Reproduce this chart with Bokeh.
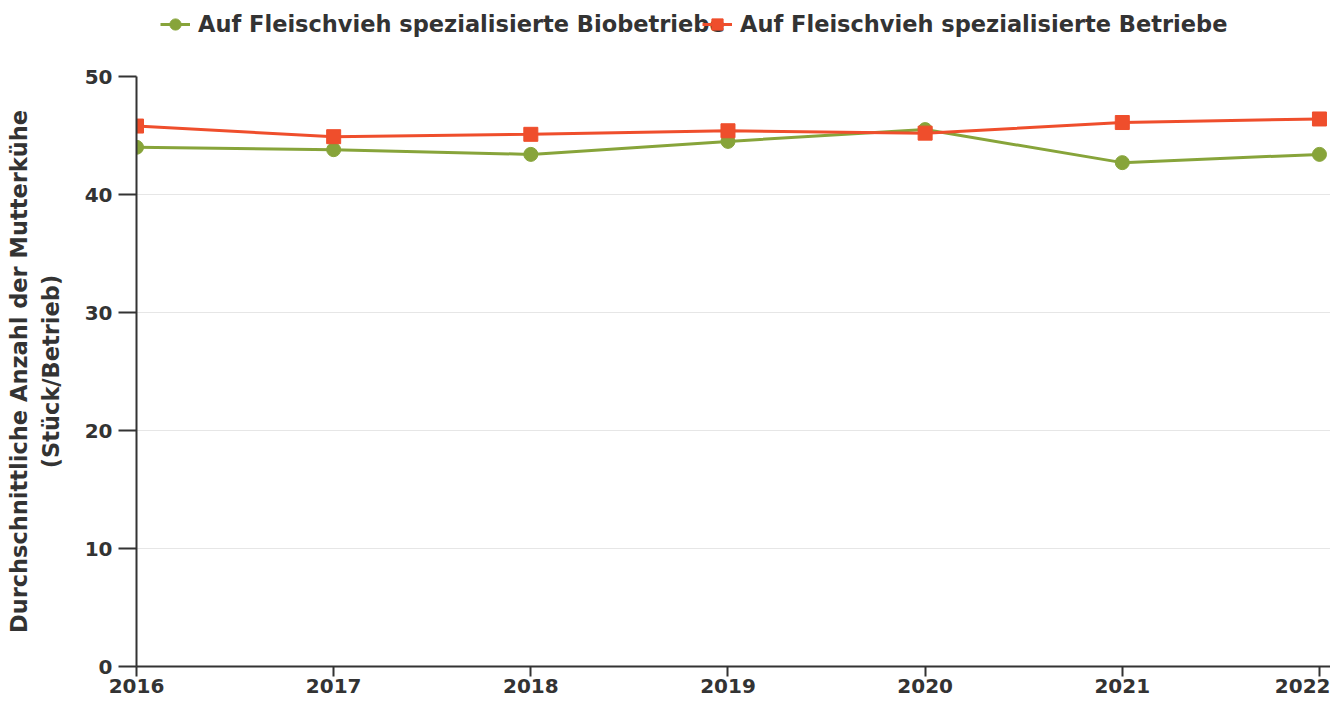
from bokeh.plotting import figure
from bokeh.layouts import column
from bokeh.models import FixedTicker, Legend, LegendItem, Range1d
from bokeh.embed import file_html
from bokeh.resources import INLINE

years = [2016, 2017, 2018, 2019, 2020, 2021, 2022]
bio = [44.0, 43.8, 43.4, 44.5, 45.5, 42.7, 43.4]
all_farms = [45.8, 44.9, 45.1, 45.4, 45.2, 46.1, 46.4]
series_names = ["Auf Fleischvieh spezialisierte Biobetriebe",
                "Auf Fleischvieh spezialisierte Betriebe"]
y_ticks = [0, 10, 20, 30, 40, 50]
y_label = "Durchschnittliche Anzahl der Mutterkühe\n(Stück/Betrieb)"

GREEN = "#87a43a"
RED = "#ef4e2c"
TXT = "#333333"
FONT = "DejaVu Sans"

# main plot
p = figure(width=1330, height=650, output_backend="svg", toolbar_location=None,
           x_range=Range1d(2016, 2022.056), y_range=Range1d(0, 50),
           min_border_left=136, min_border_top=26, min_border_right=0, min_border_bottom=34)
p.outline_line_color = None

p.line(years, bio, line_color=GREEN, line_width=3)
p.scatter(years, bio, marker="circle", size=14, fill_color=GREEN, line_color=GREEN)
p.line(years, all_farms, line_color=RED, line_width=3)
p.scatter(years, all_farms, marker="square", size=14, fill_color=RED, line_color=RED)

p.xaxis.ticker = FixedTicker(ticks=years)
p.yaxis.ticker = FixedTicker(ticks=y_ticks)
p.xgrid.visible = False
p.ygrid.grid_line_color = "#e6e6e6"
p.ygrid.grid_line_width = 1

for ax in (p.xaxis, p.yaxis):
    ax.axis_line_color = TXT
    ax.axis_line_width = 2
    ax.major_tick_line_color = TXT
    ax.major_tick_line_width = 2
    ax.minor_tick_line_color = None
    ax.major_tick_in = 0
    ax.major_label_text_font = FONT
    ax.major_label_text_font_style = "bold"
    ax.major_label_text_font_size = "20px"
    ax.major_label_text_color = TXT

p.xaxis.major_tick_out = 10
p.xaxis.major_label_standoff = 2
p.yaxis.major_tick_out = 18
p.yaxis.major_label_standoff = 6

p.yaxis.axis_label = y_label
p.yaxis.axis_label_text_font = FONT
p.yaxis.axis_label_text_font_style = "bold"
p.yaxis.axis_label_text_font_size = "22.5px"
p.yaxis.axis_label_text_color = TXT
p.yaxis.axis_label_standoff = 18

# legend strip above the plot (its glyphs use the same data, out of this strip's view)
lg = figure(width=1330, height=50, output_backend="svg", toolbar_location=None,
            x_range=Range1d(0, 1), y_range=Range1d(0, 1),
            min_border=0, min_border_left=136, min_border_right=0,
            min_border_top=0, min_border_bottom=0)
lg.axis.visible = False
lg.grid.visible = False
lg.outline_line_color = None
gl = lg.line(years, bio, line_color=GREEN, line_width=3)
gs = lg.scatter(years, bio, marker="circle", size=13, fill_color=GREEN, line_color=GREEN)
rl = lg.line(years, all_farms, line_color=RED, line_width=3)
rs = lg.scatter(years, all_farms, marker="square", size=13, fill_color=RED, line_color=RED)


def make_legend(label, rends, x):
    leg = Legend(items=[LegendItem(label=label, renderers=rends)],
                 orientation="horizontal", location=(x, 12))
    leg.label_text_font = FONT
    leg.label_text_font_size = "22.5px"
    leg.label_text_font_style = "bold"
    leg.label_text_color = TXT
    leg.glyph_width = 30
    leg.glyph_height = 28
    leg.label_standoff = 8
    leg.border_line_color = None
    leg.background_fill_alpha = 0
    leg.padding = 4
    leg.margin = 0
    return leg


lg.add_layout(make_legend(series_names[0], [gl, gs], 24), "center")
lg.add_layout(make_legend(series_names[1], [rl, rs], 566), "center")

layout = column(lg, p, spacing=0)
open("out.html", "w").write(file_html(layout, INLINE))
